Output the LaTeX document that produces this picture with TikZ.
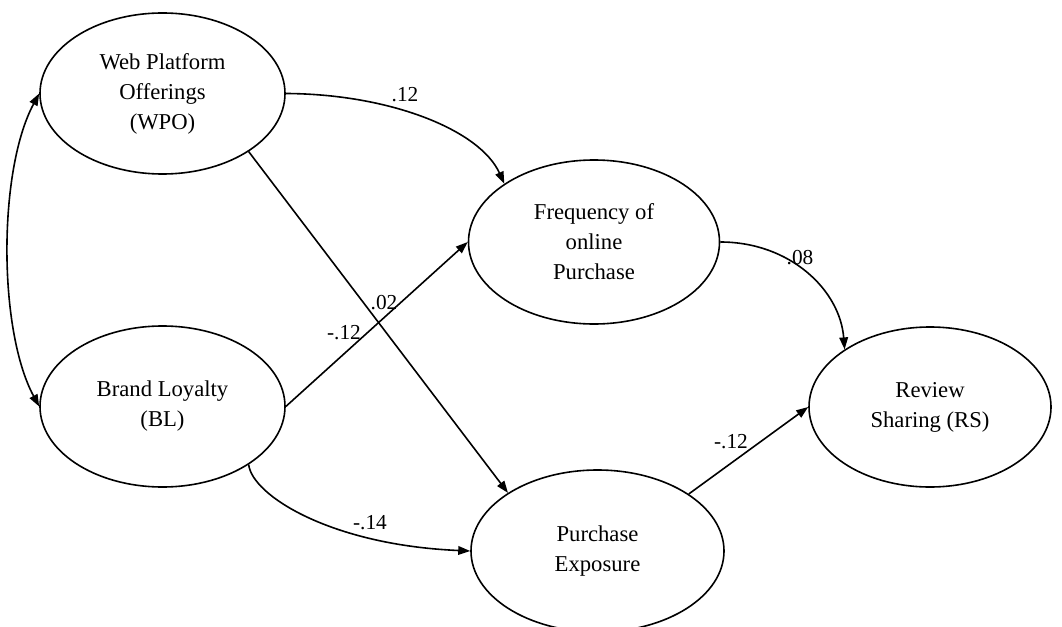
\documentclass[tikz,border=0pt]{standalone}
\usepackage{fontspec}
\setmainfont{Liberation Serif}
\usetikzlibrary{arrows.meta,shapes.geometric}
\begin{document}
\begin{tikzpicture}[x=0.75pt,y=-0.75pt,
  latent/.style={draw, ellipse, line width=1.2pt, inner sep=0pt, align=center,
    font=\fontsize{17}{22.5}\selectfont},
  arr/.style={draw, line width=1.2pt, -{Triangle[length=9pt,width=6.5pt]}},
  biarr/.style={draw, line width=1.2pt, {Triangle[length=9pt,width=6.5pt]}-{Triangle[length=9pt,width=6.5pt]}},
  coef/.style={font=\fontsize{16}{19}\selectfont, inner sep=0pt}]
\useasboundingbox (0,0) rectangle (1062,627);
\node[latent, minimum width=183.75pt, minimum height=120.75pt] (WPO) at (162.5,93.5) {Web Platform\\Offerings\\(WPO)};
\node[latent, minimum width=183.75pt, minimum height=120.75pt] (BL) at (162.5,406.5) {Brand Loyalty\\(BL)};
\node[latent, minimum width=188.25pt, minimum height=123pt] (FOP) at (594,242) {Frequency of\\online\\Purchase};
\node[latent, minimum width=189.75pt, minimum height=121.5pt] (PE) at (597.5,551) {Purchase\\Exposure};
\node[latent, minimum width=181.5pt, minimum height=120pt] (RS) at (930,407) {Review\\Sharing (RS)};

\draw[biarr] (WPO.west) .. controls (-2,170) and (-2,330) .. (BL.west);
\draw[arr] (WPO.east) .. controls (390,94) and (480,130) .. (FOP.147);
\draw[arr] (WPO.-34) -- (PE.147);
\draw[arr] (BL.east) -- (FOP.west);
\draw[arr] (BL.-34) .. controls (252,495) and (330,545) .. (PE.west);
\draw[arr] (FOP.east) .. controls (790,242) and (840,290) .. (RS.146);
\draw[arr] (PE.32) -- (RS.west);

\node[coef] (c1) at (405,95) {.12};
\node[coef] (c2) at (384,303) {.02};
\node[coef] (c3) at (344,333) {-.12};
\node[coef] (c4) at (370,523) {-.14};
\node[coef] (c5) at (800,258) {.08};
\node[coef] (c6) at (731,442) {-.12};
\end{tikzpicture}
\end{document}
